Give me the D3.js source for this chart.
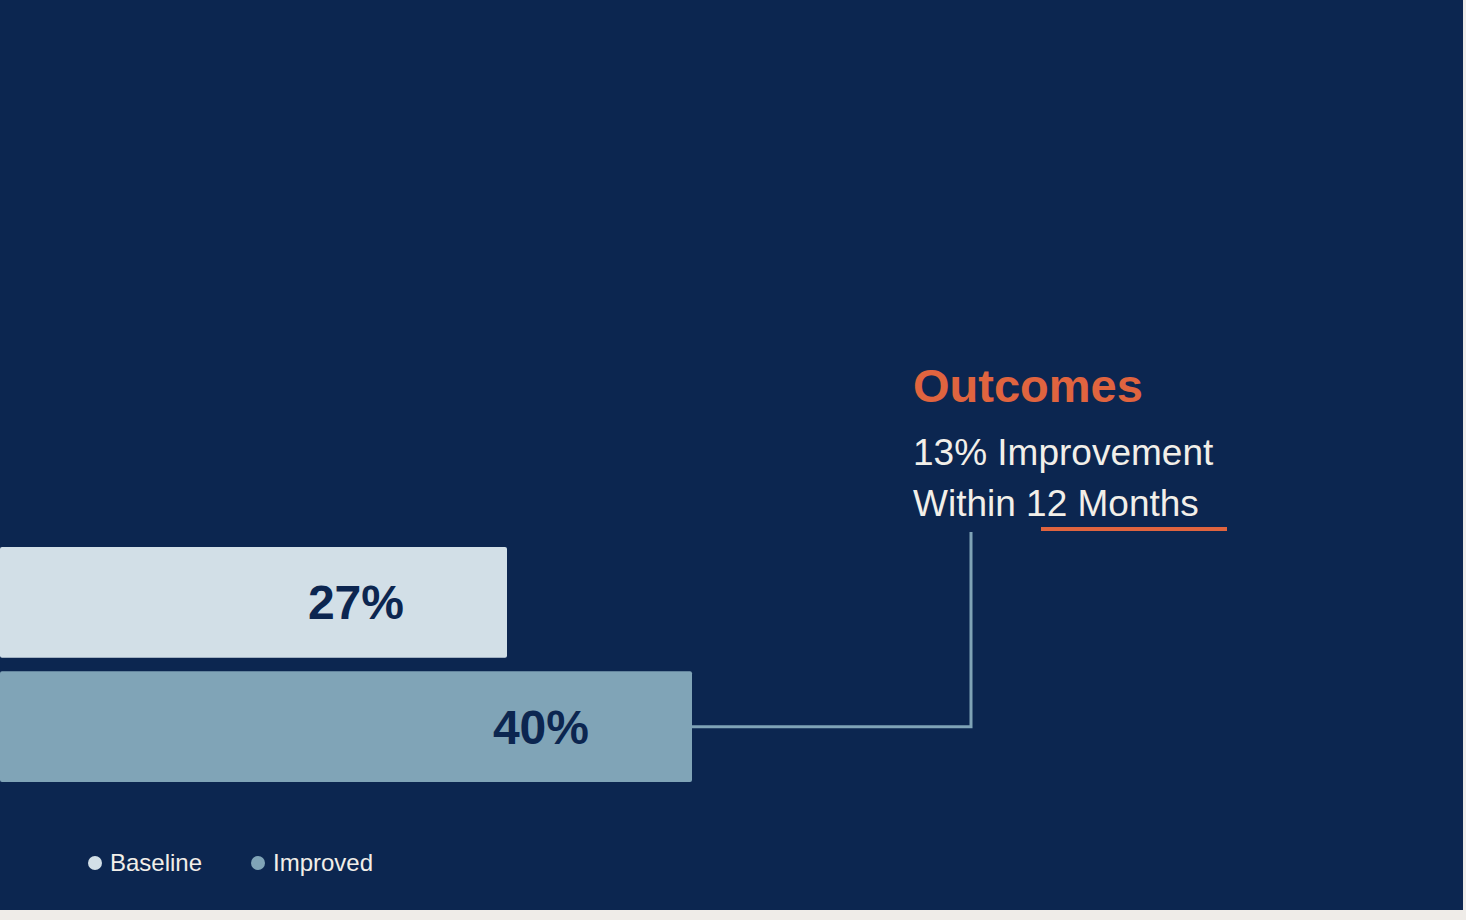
<!DOCTYPE html>
<html><head><meta charset="utf-8">
<script src="https://cdn.jsdelivr.net/npm/d3@7"></script>
<style>body{margin:0;background:#efece8;}svg{display:block;font-family:"Liberation Sans",Arial,sans-serif;}</style>
</head><body><div id="chart"></div>
<script>
const categories = ["Baseline", "Improved"];
const values = [27, 40];
const labels = ["27%", "40%"];
const colors = ["#d2dfe7", "#80a4b7"];

const w = 1466, h = 920;
const svg = d3.select("#chart").append("svg").attr("width", w).attr("height", h);
svg.append("rect").attr("width", 1463).attr("height", 910).attr("fill", "#0c2650");

const xScale = d3.scaleLinear().domain([27, 40]).range([507, 692]);
const yScale = d3.scaleBand().domain(categories).range([547, 782]).paddingInner(0.11);

svg.selectAll("rect.bar").data(categories).enter().append("rect")
  .attr("class", "bar")
  .attr("x", 0)
  .attr("y", d => yScale(d))
  .attr("width", (d, i) => xScale(values[i]))
  .attr("height", yScale.bandwidth())
  .attr("rx", 2)
  .attr("fill", (d, i) => colors[i]);

svg.selectAll("text.val").data(categories).enter().append("text")
  .attr("x", (d, i) => xScale(values[i]) - 103)
  .attr("y", d => yScale(d) + yScale.bandwidth() / 2 + 17)
  .attr("text-anchor", "end")
  .attr("font-size", 48).attr("font-weight", "bold")
  .attr("fill", "#0c2650")
  .text((d, i) => labels[i]);

// connector from improved bar to annotation
const yi = yScale("Improved") + yScale.bandwidth() / 2;
svg.append("path")
  .attr("d", `M${xScale(40)},${yi}H971V532`)
  .attr("fill", "none").attr("stroke", "#7fa3b6").attr("stroke-width", 3);

svg.append("text").attr("x", 913).attr("y", 402)
  .attr("font-size", 47).attr("font-weight", "bold").attr("fill", "#e0643f").text("Outcomes");
svg.append("text").attr("x", 913).attr("y", 465)
  .attr("font-size", 37).attr("fill", "#f2efe9").text("13% Improvement");
svg.append("text").attr("x", 913).attr("y", 516)
  .attr("font-size", 37).attr("fill", "#f2efe9").text("Within 12 Months");
svg.append("rect").attr("x", 1041).attr("y", 527).attr("width", 186).attr("height", 4).attr("fill", "#e0643f");

const legend = svg.selectAll("g.leg").data(categories).enter().append("g")
  .attr("transform", (d, i) => `translate(${95 + i * 163},863)`);
legend.append("circle").attr("r", 7).attr("fill", (d, i) => colors[i]);
legend.append("text").attr("x", 15).attr("y", 8).attr("font-size", 24)
  .attr("fill", "#f2efe9").text(d => d);
</script></body></html>
